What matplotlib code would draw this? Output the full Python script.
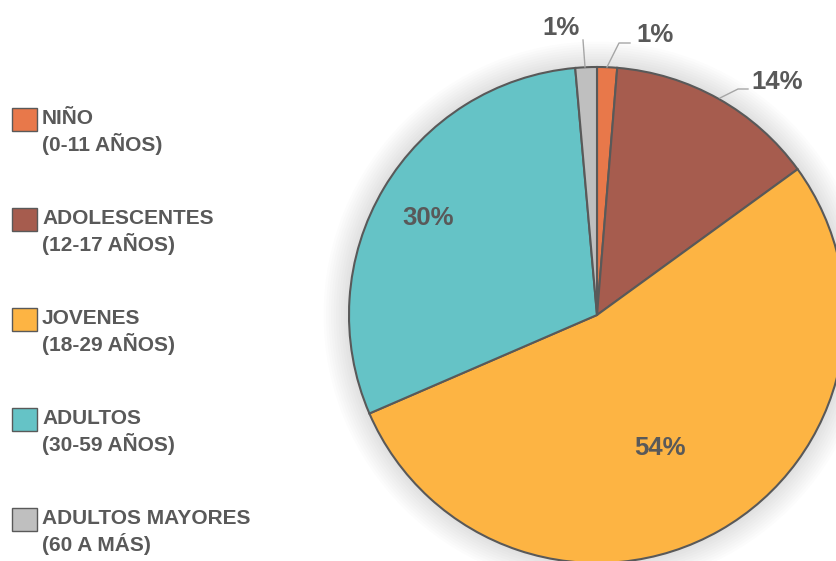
import numpy as np
import matplotlib
matplotlib.use('Agg')
import matplotlib.pyplot as plt
from matplotlib.patches import Rectangle, Circle

plt.rcParams['font.family'] = ['Liberation Sans', 'DejaVu Sans']

categorias = ['NIÑO\n(0-11 AÑOS)', 'ADOLESCENTES\n(12-17 AÑOS)', 'JOVENES\n(18-29 AÑOS)',
              'ADULTOS\n(30-59 AÑOS)', 'ADULTOS MAYORES\n(60 A MÁS)']
porcentajes = [1.3, 13.7, 53.5, 30.1, 1.4]
etiquetas = ['1%', '14%', '54%', '30%', '1%']
colores = ['#E8784A', '#A65C4E', '#FDB443', '#65C3C6', '#BFBFBF']
gris = '#595959'

H = 561
def Y(py):
    # pixel desde arriba -> coordenada de datos
    return H - py

fig = plt.figure(figsize=(8.36, 5.61), dpi=100)
ax = fig.add_axes([0, 0, 1, 1])

cx, cy, r = 597, 315, 248

# sombra suave alrededor del pastel
for k in range(10):
    ax.add_patch(Circle((cx, Y(cy)), r + 3 + k * 2.5, color='black', alpha=0.012, lw=0, zorder=0))

wedges, _ = ax.pie(porcentajes, colors=colores, startangle=90, counterclock=False,
                   center=(cx, Y(cy)), radius=r, frame=True,
                   wedgeprops=dict(edgecolor=gris, linewidth=1.5))
ax.set_xlim(0, 836)
ax.set_ylim(0, H)
ax.set_aspect('equal')
ax.axis('off')

# posiciones de etiquetas (px)
pos_etq = [(655, 35), (777, 82), (660, 448), (428, 218), (561, 28)]
for (x, y), t in zip(pos_etq, etiquetas):
    ax.text(x, Y(y), t, ha='center', va='center', fontsize=18.5, fontweight='bold', color=gris)

# lineas guia
ax.plot([607, 619, 630], [Y(67), Y(43), Y(43)], color='#A6A6A6', lw=1)
ax.plot([720, 738, 748], [Y(98), Y(89), Y(89)], color='#A6A6A6', lw=1)
ax.plot([585, 583], [Y(67), Y(40)], color='#A6A6A6', lw=1)

# leyenda
for i, (cat, col) in enumerate(zip(categorias, colores)):
    y0 = 108 + i * 100
    ax.add_patch(Rectangle((12, Y(y0 + 23)), 25, 23, facecolor=col, edgecolor=gris, lw=1))
    ax.text(42, Y(y0 + 1), cat, ha='left', va='top', fontsize=15.0, fontweight='bold',
            color=gris, linespacing=1.28)

fig.savefig('out.png', dpi=100)
